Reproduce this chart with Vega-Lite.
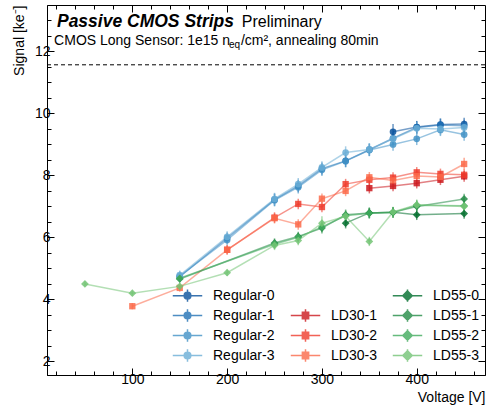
{
  "$schema": "https://vega.github.io/schema/vega-lite/v6.json",
  "width": 438,
  "height": 370,
  "autosize": "none",
  "padding": {"left": 47, "top": 5, "right": 2, "bottom": 34},
  "config": {
    "view": {"stroke": "black", "strokeWidth": 1},
    "font": "Liberation Sans"
  },
  "datasets": {
    "sig": [
      {"series": "Regular-0", "V": 375, "S": 9.41, "err": 0.25},
      {"series": "Regular-0", "V": 400, "S": 9.56, "err": 0.2},
      {"series": "Regular-0", "V": 425, "S": 9.64, "err": 0.2},
      {"series": "Regular-0", "V": 450, "S": 9.66, "err": 0.2},
      {"series": "Regular-1", "V": 150, "S": 4.73, "err": 0.15},
      {"series": "Regular-1", "V": 200, "S": 5.98, "err": 0.18},
      {"series": "Regular-1", "V": 250, "S": 7.22, "err": 0.2},
      {"series": "Regular-1", "V": 275, "S": 7.66, "err": 0.2},
      {"series": "Regular-1", "V": 300, "S": 8.22, "err": 0.2},
      {"series": "Regular-1", "V": 325, "S": 8.47, "err": 0.2},
      {"series": "Regular-1", "V": 350, "S": 8.83, "err": 0.2},
      {"series": "Regular-1", "V": 375, "S": 9.2, "err": 0.2},
      {"series": "Regular-1", "V": 400, "S": 9.55, "err": 0.2},
      {"series": "Regular-1", "V": 425, "S": 9.63, "err": 0.2},
      {"series": "Regular-1", "V": 450, "S": 9.6, "err": 0.2},
      {"series": "Regular-2", "V": 150, "S": 4.75, "err": 0.15},
      {"series": "Regular-2", "V": 200, "S": 5.92, "err": 0.18},
      {"series": "Regular-2", "V": 250, "S": 7.2, "err": 0.2},
      {"series": "Regular-2", "V": 275, "S": 7.62, "err": 0.2},
      {"series": "Regular-2", "V": 300, "S": 8.18, "err": 0.2},
      {"series": "Regular-2", "V": 325, "S": 8.46, "err": 0.2},
      {"series": "Regular-2", "V": 350, "S": 8.82, "err": 0.2},
      {"series": "Regular-2", "V": 375, "S": 9.0, "err": 0.2},
      {"series": "Regular-2", "V": 400, "S": 9.18, "err": 0.2},
      {"series": "Regular-2", "V": 425, "S": 9.47, "err": 0.2},
      {"series": "Regular-2", "V": 450, "S": 9.32, "err": 0.2},
      {"series": "Regular-3", "V": 150, "S": 4.78, "err": 0.15},
      {"series": "Regular-3", "V": 200, "S": 6.02, "err": 0.18},
      {"series": "Regular-3", "V": 250, "S": 7.24, "err": 0.2},
      {"series": "Regular-3", "V": 275, "S": 7.72, "err": 0.2},
      {"series": "Regular-3", "V": 300, "S": 8.26, "err": 0.2},
      {"series": "Regular-3", "V": 325, "S": 8.74, "err": 0.2},
      {"series": "Regular-3", "V": 350, "S": 8.84, "err": 0.2},
      {"series": "Regular-3", "V": 375, "S": 9.18, "err": 0.2},
      {"series": "Regular-3", "V": 400, "S": 9.52, "err": 0.2},
      {"series": "Regular-3", "V": 425, "S": 9.5, "err": 0.2},
      {"series": "Regular-3", "V": 450, "S": 9.55, "err": 0.2},
      {"series": "LD30-1", "V": 350, "S": 7.59, "err": 0.17},
      {"series": "LD30-1", "V": 375, "S": 7.66, "err": 0.17},
      {"series": "LD30-1", "V": 400, "S": 7.75, "err": 0.17},
      {"series": "LD30-1", "V": 425, "S": 7.86, "err": 0.17},
      {"series": "LD30-1", "V": 450, "S": 7.97, "err": 0.17},
      {"series": "LD30-2", "V": 200, "S": 5.6, "err": 0.15},
      {"series": "LD30-2", "V": 250, "S": 6.64, "err": 0.17},
      {"series": "LD30-2", "V": 275, "S": 7.08, "err": 0.17},
      {"series": "LD30-2", "V": 300, "S": 6.98, "err": 0.17},
      {"series": "LD30-2", "V": 325, "S": 7.72, "err": 0.17},
      {"series": "LD30-2", "V": 350, "S": 7.86, "err": 0.17},
      {"series": "LD30-2", "V": 375, "S": 7.93, "err": 0.17},
      {"series": "LD30-2", "V": 400, "S": 8.1, "err": 0.17},
      {"series": "LD30-2", "V": 425, "S": 8.05, "err": 0.17},
      {"series": "LD30-2", "V": 450, "S": 8.02, "err": 0.17},
      {"series": "LD30-3", "V": 100, "S": 3.78, "err": 0.1},
      {"series": "LD30-3", "V": 150, "S": 4.37, "err": 0.12},
      {"series": "LD30-3", "V": 200, "S": 5.6, "err": 0.15},
      {"series": "LD30-3", "V": 250, "S": 6.62, "err": 0.17},
      {"series": "LD30-3", "V": 275, "S": 6.42, "err": 0.17},
      {"series": "LD30-3", "V": 300, "S": 7.25, "err": 0.17},
      {"series": "LD30-3", "V": 325, "S": 7.5, "err": 0.17},
      {"series": "LD30-3", "V": 350, "S": 7.94, "err": 0.17},
      {"series": "LD30-3", "V": 375, "S": 7.84, "err": 0.17},
      {"series": "LD30-3", "V": 400, "S": 7.98, "err": 0.17},
      {"series": "LD30-3", "V": 425, "S": 7.95, "err": 0.17},
      {"series": "LD30-3", "V": 450, "S": 8.37, "err": 0.2},
      {"series": "LD55-0", "V": 325, "S": 6.46, "err": 0.17},
      {"series": "LD55-0", "V": 350, "S": 6.79, "err": 0.17},
      {"series": "LD55-0", "V": 375, "S": 6.81, "err": 0.17},
      {"series": "LD55-0", "V": 400, "S": 6.73, "err": 0.17},
      {"series": "LD55-0", "V": 450, "S": 6.77, "err": 0.17},
      {"series": "LD55-1", "V": 150, "S": 4.66, "err": 0.12},
      {"series": "LD55-1", "V": 250, "S": 5.82, "err": 0.15},
      {"series": "LD55-1", "V": 275, "S": 6.03, "err": 0.15},
      {"series": "LD55-1", "V": 300, "S": 6.3, "err": 0.17},
      {"series": "LD55-1", "V": 325, "S": 6.73, "err": 0.17},
      {"series": "LD55-1", "V": 350, "S": 6.79, "err": 0.17},
      {"series": "LD55-1", "V": 375, "S": 6.81, "err": 0.17},
      {"series": "LD55-1", "V": 400, "S": 7.0, "err": 0.17},
      {"series": "LD55-1", "V": 450, "S": 7.24, "err": 0.17},
      {"series": "LD55-2", "V": 150, "S": 4.68, "err": 0.12},
      {"series": "LD55-2", "V": 250, "S": 5.78, "err": 0.15},
      {"series": "LD55-2", "V": 275, "S": 6.0, "err": 0.15},
      {"series": "LD55-2", "V": 300, "S": 6.34, "err": 0.17},
      {"series": "LD55-2", "V": 325, "S": 6.7, "err": 0.17},
      {"series": "LD55-2", "V": 350, "S": 6.78, "err": 0.17},
      {"series": "LD55-2", "V": 375, "S": 6.8, "err": 0.17},
      {"series": "LD55-2", "V": 400, "S": 7.04, "err": 0.17},
      {"series": "LD55-2", "V": 450, "S": 7.02, "err": 0.17},
      {"series": "LD55-3", "V": 50, "S": 4.5, "err": 0.08},
      {"series": "LD55-3", "V": 100, "S": 4.2, "err": 0.08},
      {"series": "LD55-3", "V": 150, "S": 4.42, "err": 0.1},
      {"series": "LD55-3", "V": 200, "S": 4.86, "err": 0.1},
      {"series": "LD55-3", "V": 250, "S": 5.74, "err": 0.15},
      {"series": "LD55-3", "V": 275, "S": 5.9, "err": 0.15},
      {"series": "LD55-3", "V": 300, "S": 6.46, "err": 0.22},
      {"series": "LD55-3", "V": 325, "S": 6.68, "err": 0.17},
      {"series": "LD55-3", "V": 350, "S": 5.87, "err": 0.15},
      {"series": "LD55-3", "V": 375, "S": 6.82, "err": 0.17},
      {"series": "LD55-3", "V": 400, "S": 7.05, "err": 0.17},
      {"series": "LD55-3", "V": 450, "S": 7.0, "err": 0.17}
    ]
  },
  "data": {"name": "sig"},
  "layer": [
    {
      "layer": [
        {
          "mark": {"type": "line", "strokeWidth": 1.5, "opacity": 0.55},
          "encoding": {
            "x": {"field": "V", "type": "quantitative", "scale": {"domain": [10, 472], "nice": false, "zero": false},
              "axis": {"orient": "bottom", "values": [100, 200, 300, 400], "tickSize": -7, "tickColor": "black", "domainColor": "black", "labelFont": "Liberation Sans", "labelFontSize": 14, "labelColor": "black", "labelPadding": 4, "labelOverlap": false, "labelFlush": false, "grid": false, "title": "Voltage [V]", "titleFont": "Liberation Sans", "titleFontSize": 14, "titleFontWeight": "normal", "titleColor": "black", "titleAnchor": "end", "titlePadding": 4}},
            "y": {"field": "S", "type": "quantitative", "scale": {"domain": [1.56, 13.5], "nice": false, "zero": false},
              "axis": {"orient": "left", "values": [2, 4, 6, 8, 10, 12], "tickSize": -7, "tickColor": "black", "domainColor": "black", "labelFont": "Liberation Sans", "labelFontSize": 14, "labelColor": "black", "labelPadding": 4, "labelOverlap": false, "labelFlush": false, "grid": false, "title": "Signal [ke⁻]", "titleFont": "Liberation Sans", "titleFontSize": 14, "titleFontWeight": "normal", "titleColor": "black", "titleAnchor": "end", "titlePadding": 8}},
            "color": {"field": "series", "type": "nominal", "legend": null,
              "scale": {"domain": ["Regular-0", "Regular-1", "Regular-2", "Regular-3", "LD30-1", "LD30-2", "LD30-3", "LD55-0", "LD55-1", "LD55-2", "LD55-3"],
                "range": ["#08519c", "#2171b5", "#4292c6", "#6baed6", "#cb181d", "#ef3b2c", "#fb6a4a", "#006d2c", "#238b45", "#41ab5d", "#74c476"]}}
          }
        },
        {
          "mark": {"type": "errorbar", "ticks": false, "rule": {"strokeWidth": 1.5, "opacity": 0.6}},
          "encoding": {
            "x": {"field": "V", "type": "quantitative", "title": "Voltage [V]"},
            "y": {"field": "S", "type": "quantitative", "title": "Signal [ke⁻]"},
            "yError": {"field": "err"},
            "color": {"field": "series", "type": "nominal", "legend": null}
          }
        },
        {
          "transform": [{"filter": {"field": "series", "oneOf": ["Regular-0", "Regular-1", "Regular-2", "Regular-3"]}}],
          "mark": {"type": "point", "shape": "circle", "filled": true, "size": 45, "opacity": 0.85},
          "encoding": {
            "x": {"field": "V", "type": "quantitative", "title": "Voltage [V]"},
            "y": {"field": "S", "type": "quantitative", "title": "Signal [ke⁻]"},
            "color": {"field": "series", "type": "nominal", "legend": null}
          }
        },
        {
          "transform": [{"filter": {"field": "series", "oneOf": ["LD30-1", "LD30-2", "LD30-3"]}}],
          "mark": {"type": "point", "shape": "square", "filled": true, "size": 40, "opacity": 0.85},
          "encoding": {
            "x": {"field": "V", "type": "quantitative", "title": "Voltage [V]"},
            "y": {"field": "S", "type": "quantitative", "title": "Signal [ke⁻]"},
            "color": {"field": "series", "type": "nominal", "legend": null}
          }
        },
        {
          "transform": [{"filter": {"field": "series", "oneOf": ["LD55-0", "LD55-1", "LD55-2", "LD55-3"]}}],
          "mark": {"type": "point", "shape": "diamond", "filled": true, "size": 60, "opacity": 0.85},
          "encoding": {
            "x": {"field": "V", "type": "quantitative", "title": "Voltage [V]"},
            "y": {"field": "S", "type": "quantitative", "title": "Signal [ke⁻]"},
            "color": {"field": "series", "type": "nominal", "legend": null}
          }
        }
      ]
    },
    {
      "transform": [{"filter": {"field": "V", "lt": 0}}],
      "mark": {"type": "point", "filled": true, "opacity": 0.8, "strokeWidth": 1.5},
      "encoding": {
        "x": {"field": "V", "type": "quantitative", "axis": null},
        "y": {"field": "S", "type": "quantitative", "axis": null},
        "fill": {"field": "series", "type": "nominal",
          "scale": {"domain": ["Regular-0", "Regular-1", "Regular-2", "Regular-3", " ", "LD30-1", "LD30-2", "LD30-3", "LD55-0", "LD55-1", "LD55-2", "LD55-3"],
            "range": ["#08519c", "#2171b5", "#4292c6", "#6baed6", "rgba(0,0,0,0)", "#cb181d", "#ef3b2c", "#fb6a4a", "#006d2c", "#238b45", "#41ab5d", "#74c476"]},
          "legend": {"title": null, "orient": "none", "legendX": 130, "legendY": 280, "columns": 3, "symbolSize": 361, "symbolStrokeWidth": 1.5, "symbolOpacity": 0.8, "labelFont": "Liberation Sans", "labelFontSize": 14, "labelColor": "black", "labelOffset": 15, "columnPadding": 12, "rowPadding": -1}},
        "stroke": {"field": "series", "type": "nominal",
          "scale": {"domain": ["Regular-0", "Regular-1", "Regular-2", "Regular-3", " ", "LD30-1", "LD30-2", "LD30-3", "LD55-0", "LD55-1", "LD55-2", "LD55-3"],
            "range": ["#08519c", "#2171b5", "#4292c6", "#6baed6", "rgba(0,0,0,0)", "#cb181d", "#ef3b2c", "#fb6a4a", "#006d2c", "#238b45", "#41ab5d", "#74c476"]},
          "legend": {"title": null, "orient": "none", "legendX": 130, "legendY": 280, "columns": 3, "symbolSize": 361, "symbolStrokeWidth": 1.5, "symbolOpacity": 0.8, "labelFont": "Liberation Sans", "labelFontSize": 14, "labelColor": "black", "labelOffset": 15, "columnPadding": 12, "rowPadding": -1}},
        "shape": {"field": "series", "type": "nominal",
          "scale": {"domain": ["Regular-0", "Regular-1", "Regular-2", "Regular-3", " ", "LD30-1", "LD30-2", "LD30-3", "LD55-0", "LD55-1", "LD55-2", "LD55-3"],
            "range": [
              "M-1.55,0H1.55M0,-0.65V0.65M0.35,0A0.35,0.35,0,1,1,-0.35,0A0.35,0.35,0,1,1,0.35,0Z",
              "M-1.55,0H1.55M0,-0.65V0.65M0.35,0A0.35,0.35,0,1,1,-0.35,0A0.35,0.35,0,1,1,0.35,0Z",
              "M-1.55,0H1.55M0,-0.65V0.65M0.35,0A0.35,0.35,0,1,1,-0.35,0A0.35,0.35,0,1,1,0.35,0Z",
              "M-1.55,0H1.55M0,-0.65V0.65M0.35,0A0.35,0.35,0,1,1,-0.35,0A0.35,0.35,0,1,1,0.35,0Z",
              "M-1.55,0H1.55",
              "M-1.55,0H1.55M0,-0.65V0.65M-0.33,-0.33H0.33V0.33H-0.33Z",
              "M-1.55,0H1.55M0,-0.65V0.65M-0.33,-0.33H0.33V0.33H-0.33Z",
              "M-1.55,0H1.55M0,-0.65V0.65M-0.33,-0.33H0.33V0.33H-0.33Z",
              "M-1.55,0H1.55M0,-0.65V0.65M0,-0.5L0.5,0L0,0.5L-0.5,0Z",
              "M-1.55,0H1.55M0,-0.65V0.65M0,-0.5L0.5,0L0,0.5L-0.5,0Z",
              "M-1.55,0H1.55M0,-0.65V0.65M0,-0.5L0.5,0L0,0.5L-0.5,0Z",
              "M-1.55,0H1.55M0,-0.65V0.65M0,-0.5L0.5,0L0,0.5L-0.5,0Z"
            ]},
          "legend": {"title": null, "orient": "none", "legendX": 130, "legendY": 280, "columns": 3, "symbolSize": 361, "symbolStrokeWidth": 1.5, "symbolOpacity": 0.8, "labelFont": "Liberation Sans", "labelFontSize": 14, "labelColor": "black", "labelOffset": 15, "columnPadding": 12, "rowPadding": -1}}
      }
    },
    {
      "mark": {"type": "point", "opacity": 0},
      "encoding": {
        "x": {"field": "V", "type": "quantitative",
          "axis": {"orient": "bottom", "values": [20,40,60,80,120,140,160,180,220,240,260,280,320,340,360,380,420,440,460], "labels": false, "title": null, "domain": false, "grid": false, "tickColor": "black", "tickSize": -4}},
        "y": {"field": "S", "type": "quantitative",
          "axis": {"orient": "left", "values": [2.5,3,3.5,4.5,5,5.5,6.5,7,7.5,8.5,9,9.5,10.5,11,11.5,12.5,13], "labels": false, "title": null, "domain": false, "grid": false, "tickColor": "black", "tickSize": -4}}
      }
    },
    {
      "mark": {"type": "point", "opacity": 0},
      "encoding": {
        "x": {"field": "V", "type": "quantitative",
          "axis": {"orient": "top", "values": [100, 200, 300, 400], "labels": false, "title": null, "domain": false, "grid": false, "tickColor": "black", "tickSize": -7}},
        "y": {"field": "S", "type": "quantitative",
          "axis": {"orient": "right", "values": [2, 4, 6, 8, 10, 12], "labels": false, "title": null, "domain": false, "grid": false, "tickColor": "black", "tickSize": -7}}
      }
    },
    {
      "mark": {"type": "point", "opacity": 0},
      "encoding": {
        "x": {"field": "V", "type": "quantitative",
          "axis": {"orient": "top", "values": [20,40,60,80,120,140,160,180,220,240,260,280,320,340,360,380,420,440,460], "labels": false, "title": null, "domain": false, "grid": false, "tickColor": "black", "tickSize": -4}},
        "y": {"field": "S", "type": "quantitative",
          "axis": {"orient": "right", "values": [2.5,3,3.5,4.5,5,5.5,6.5,7,7.5,8.5,9,9.5,10.5,11,11.5,12.5,13], "labels": false, "title": null, "domain": false, "grid": false, "tickColor": "black", "tickSize": -4}}
      }
    },
    {
      "data": {"values": [{}]},
      "mark": {"type": "rule", "color": "black", "strokeWidth": 1, "strokeDash": [4, 3]},
      "encoding": {"y": {"datum": 11.57, "type": "quantitative", "axis": null}}
    },
    {
      "data": {"values": [{}]},
      "mark": {"type": "text", "text": "Passive CMOS Strips", "font": "Liberation Sans", "fontSize": 17.5, "fontWeight": "bold", "fontStyle": "italic", "align": "left", "baseline": "alphabetic", "color": "black"},
      "encoding": {"x": {"datum": 20.5, "type": "quantitative", "axis": null}, "y": {"datum": 12.8, "type": "quantitative", "axis": null}}
    },
    {
      "data": {"values": [{}]},
      "mark": {"type": "text", "text": "Preliminary", "font": "Liberation Sans", "fontSize": 16, "align": "left", "baseline": "alphabetic", "color": "black"},
      "encoding": {"x": {"datum": 215.5, "type": "quantitative", "axis": null}, "y": {"datum": 12.8, "type": "quantitative", "axis": null}}
    },
    {
      "data": {"values": [{}]},
      "mark": {"type": "text", "text": "CMOS Long Sensor: 1e15 n", "font": "Liberation Sans", "fontSize": 14, "align": "left", "baseline": "alphabetic", "color": "black"},
      "encoding": {"x": {"datum": 17.5, "type": "quantitative", "axis": null}, "y": {"datum": 12.22, "type": "quantitative", "axis": null}}
    },
    {
      "data": {"values": [{}]},
      "mark": {"type": "text", "text": "eq", "font": "Liberation Sans", "fontSize": 10, "align": "left", "baseline": "alphabetic", "dy": 3, "color": "black"},
      "encoding": {"x": {"datum": 202, "type": "quantitative", "axis": null}, "y": {"datum": 12.22, "type": "quantitative", "axis": null}}
    },
    {
      "data": {"values": [{}]},
      "mark": {"type": "text", "text": "/cm², annealing 80min", "font": "Liberation Sans", "fontSize": 14, "align": "left", "baseline": "alphabetic", "color": "black"},
      "encoding": {"x": {"datum": 214.5, "type": "quantitative", "axis": null}, "y": {"datum": 12.22, "type": "quantitative", "axis": null}}
    }
  ],
  "resolve": {"axis": {"x": "independent", "y": "independent"}}
}
